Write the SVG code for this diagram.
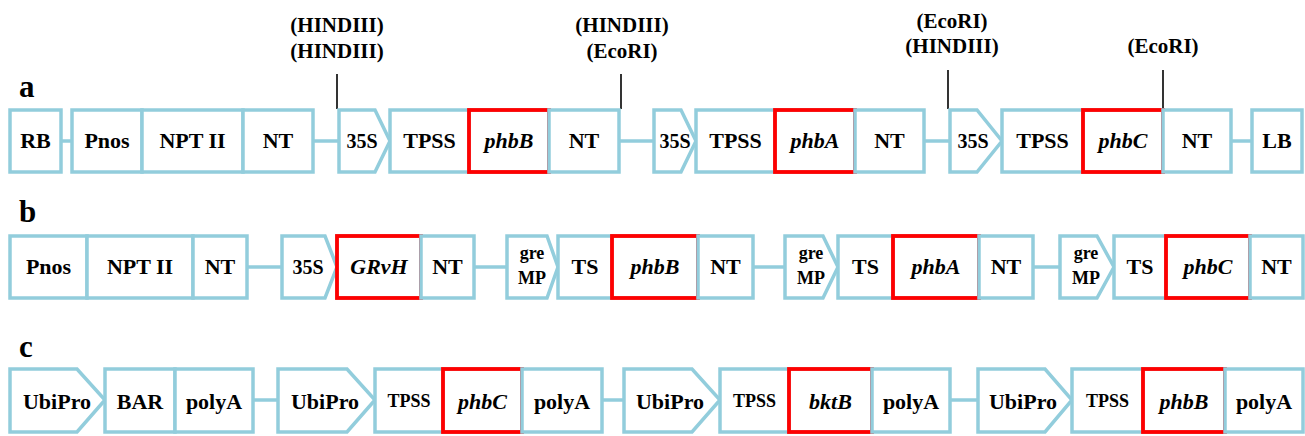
<svg xmlns="http://www.w3.org/2000/svg" width="1305" height="436" viewBox="0 0 1305 436">
  <style>
    .box { fill: #ffffff; stroke: #92cddc; stroke-width: 3.5; stroke-linejoin: miter; }
    .gene { fill: none; stroke: #ff0000; stroke-width: 3.8; }
    .link { stroke: #92cddc; stroke-width: 3.5; fill: none; }
    .cut { stroke: #000000; stroke-width: 1.6; }
    text { font-family: 'Liberation Serif', 'Times New Roman', serif; font-weight: bold; fill: #000000; text-anchor: middle; }
    .lbl { font-size: 22px; }
    .sm { font-size: 18px; }
    .pr { font-size: 20px; }
    .it { font-style: italic; }
    .site { font-size: 21px; }
    .panel { font-size: 31px; text-anchor: start; }
  </style>

  <!-- panel letters -->
  <text class="panel" x="19" y="97">a</text>
  <text class="panel" x="19" y="222">b</text>
  <text class="panel" x="19" y="357">c</text>

  <!-- restriction sites above construct a -->
  <g id="sites">
    <text class="site" x="337" y="32">(HINDIII)</text>
    <text class="site" x="337" y="58">(HINDIII)</text>
    <line class="cut" x1="337" y1="74" x2="337" y2="109"/>
    <text class="site" x="622" y="32">(HINDIII)</text>
    <text class="site" x="622" y="58">(EcoRI)</text>
    <line class="cut" x1="621" y1="74" x2="621" y2="109"/>
    <text class="site" x="952" y="28">(EcoRI)</text>
    <text class="site" x="952" y="53">(HINDIII)</text>
    <line class="cut" x1="948" y1="70" x2="948" y2="109"/>
    <text class="site" x="1163" y="53">(EcoRI)</text>
    <line class="cut" x1="1163" y1="70" x2="1163" y2="109"/>
  </g>

  <!-- connectors -->
  <g id="connectors">
    <!-- a: y=141 -->
    <line class="link" x1="61" y1="141" x2="72" y2="141"/>
    <line class="link" x1="313" y1="141" x2="339" y2="141"/>
    <line class="link" x1="619" y1="141" x2="654" y2="141"/>
    <line class="link" x1="924" y1="141" x2="950" y2="141"/>
    <line class="link" x1="1231" y1="141" x2="1252" y2="141"/>
    <!-- b: y=267 -->
    <line class="link" x1="247" y1="267" x2="282" y2="267"/>
    <line class="link" x1="474" y1="267" x2="507" y2="267"/>
    <line class="link" x1="753" y1="267" x2="785" y2="267"/>
    <line class="link" x1="1033" y1="267" x2="1060" y2="267"/>
    <!-- c: y=400 -->
    <line class="link" x1="253" y1="400" x2="278" y2="400"/>
    <line class="link" x1="602" y1="400" x2="624" y2="400"/>
    <line class="link" x1="950" y1="400" x2="978" y2="400"/>
  </g>

  <!-- ===== construct a (y 110..172) ===== -->
  <g id="a-RB"><rect class="box" x="10" y="110" width="51" height="62"/><text class="lbl" x="35.5" y="148">RB</text></g>
  <g id="a-Pnos"><rect class="box" x="72" y="110" width="70" height="62"/><text class="lbl" x="107" y="148">Pnos</text></g>
  <g id="a-NPTII"><rect class="box" x="142" y="110" width="101" height="62"/><text class="lbl" x="192.5" y="148">NPT II</text></g>
  <g id="a-NT1"><rect class="box" x="243" y="110" width="70" height="62"/><text class="lbl" x="278" y="148">NT</text></g>
  <g id="a-35S1"><polygon class="box" points="339,110 375,110 390,141 375,172 339,172"/><text class="pr" x="362" y="148">35S</text></g>
  <g id="a-TPSS1"><rect class="box" x="390" y="110" width="79" height="62"/><text class="lbl" x="429.5" y="148">TPSS</text></g>
  <g id="a-phbB"><rect class="box" x="469" y="110" width="80" height="62"/><rect class="gene" x="469" y="110" width="80" height="62"/><text class="lbl it" x="509" y="148">phbB</text></g>
  <g id="a-NT2"><rect class="box" x="549" y="110" width="70" height="62"/><text class="lbl" x="584" y="148">NT</text></g>
  <g id="a-35S2"><polygon class="box" points="654,110 681,110 696,141 681,172 654,172"/><text class="pr" x="675" y="148">35S</text></g>
  <g id="a-TPSS2"><rect class="box" x="696" y="110" width="79" height="62"/><text class="lbl" x="735.5" y="148">TPSS</text></g>
  <g id="a-phbA"><rect class="box" x="775" y="110" width="80" height="62"/><rect class="gene" x="775" y="110" width="80" height="62"/><text class="lbl it" x="815" y="148">phbA</text></g>
  <g id="a-NT3"><rect class="box" x="855" y="110" width="69" height="62"/><text class="lbl" x="889.5" y="148">NT</text></g>
  <g id="a-35S3"><polygon class="box" points="950,110 977,110 1002,141 977,172 950,172"/><text class="pr" x="973" y="148">35S</text></g>
  <g id="a-TPSS3"><rect class="box" x="1002" y="110" width="81" height="62"/><text class="lbl" x="1042.5" y="148">TPSS</text></g>
  <g id="a-phbC"><rect class="box" x="1083" y="110" width="80" height="62"/><rect class="gene" x="1083" y="110" width="80" height="62"/><text class="lbl it" x="1123" y="148">phbC</text></g>
  <g id="a-NT4"><rect class="box" x="1163" y="110" width="68" height="62"/><text class="lbl" x="1197" y="148">NT</text></g>
  <g id="a-LB"><rect class="box" x="1252" y="110" width="50" height="62"/><text class="lbl" x="1277" y="148">LB</text></g>

  <!-- ===== construct b (y 236..298) ===== -->
  <g id="b-Pnos"><rect class="box" x="10" y="236" width="77" height="62"/><text class="lbl" x="48.5" y="274">Pnos</text></g>
  <g id="b-NPTII"><rect class="box" x="87" y="236" width="106" height="62"/><text class="lbl" x="140" y="274">NPT II</text></g>
  <g id="b-NT1"><rect class="box" x="193" y="236" width="54" height="62"/><text class="lbl" x="220" y="274">NT</text></g>
  <g id="b-35S"><polygon class="box" points="282,236 325,236 337,267 325,298 282,298"/><text class="pr" x="308" y="274">35S</text></g>
  <g id="b-GRvH"><rect class="box" x="337" y="236" width="84" height="62"/><rect class="gene" x="337" y="236" width="84" height="62"/><text class="lbl it" x="379" y="274">GRvH</text></g>
  <g id="b-NT2"><rect class="box" x="421" y="236" width="53" height="62"/><text class="lbl" x="447.5" y="274">NT</text></g>
  <g id="b-greMP1"><polygon class="box" points="507,236 547,236 558,267 547,298 507,298"/><text class="sm" x="532" y="259">gre</text><text class="sm" x="532" y="284">MP</text></g>
  <g id="b-TS1"><rect class="box" x="558" y="236" width="54" height="62"/><text class="lbl" x="585" y="274">TS</text></g>
  <g id="b-phbB"><rect class="box" x="612" y="236" width="86" height="62"/><rect class="gene" x="612" y="236" width="86" height="62"/><text class="lbl it" x="655" y="274">phbB</text></g>
  <g id="b-NT3"><rect class="box" x="698" y="236" width="55" height="62"/><text class="lbl" x="725.5" y="274">NT</text></g>
  <g id="b-greMP2"><polygon class="box" points="785,236 823,236 838,267 823,298 785,298"/><text class="sm" x="811" y="259">gre</text><text class="sm" x="811" y="284">MP</text></g>
  <g id="b-TS2"><rect class="box" x="838" y="236" width="55" height="62"/><text class="lbl" x="865.5" y="274">TS</text></g>
  <g id="b-phbA"><rect class="box" x="893" y="236" width="86" height="62"/><rect class="gene" x="893" y="236" width="86" height="62"/><text class="lbl it" x="936" y="274">phbA</text></g>
  <g id="b-NT4"><rect class="box" x="979" y="236" width="54" height="62"/><text class="lbl" x="1006" y="274">NT</text></g>
  <g id="b-greMP3"><polygon class="box" points="1060,236 1097,236 1114,267 1097,298 1060,298"/><text class="sm" x="1086" y="259">gre</text><text class="sm" x="1086" y="284">MP</text></g>
  <g id="b-TS3"><rect class="box" x="1114" y="236" width="52" height="62"/><text class="lbl" x="1140" y="274">TS</text></g>
  <g id="b-phbC"><rect class="box" x="1166" y="236" width="84" height="62"/><rect class="gene" x="1166" y="236" width="84" height="62"/><text class="lbl it" x="1208" y="274">phbC</text></g>
  <g id="b-NT5"><rect class="box" x="1250" y="236" width="53" height="62"/><text class="lbl" x="1276.5" y="274">NT</text></g>

  <!-- ===== construct c (y 369..432) ===== -->
  <g id="c-UbiPro1"><polygon class="box" points="10,369 77,369 105,400 77,432 10,432"/><text class="lbl" x="57" y="409">UbiPro</text></g>
  <g id="c-BAR"><rect class="box" x="105" y="369" width="70" height="63"/><text class="lbl" x="140" y="409">BAR</text></g>
  <g id="c-polyA1"><rect class="box" x="175" y="369" width="78" height="63"/><text class="lbl" x="214" y="409">polyA</text></g>
  <g id="c-UbiPro2"><polygon class="box" points="278,369 347,369 375,400 347,432 278,432"/><text class="lbl" x="325" y="409">UbiPro</text></g>
  <g id="c-TPSS1"><rect class="box" x="375" y="369" width="68" height="63"/><text class="sm" x="409" y="407">TPSS</text></g>
  <g id="c-phbC"><rect class="box" x="443" y="369" width="79" height="63"/><rect class="gene" x="443" y="369" width="79" height="63"/><text class="lbl it" x="482.5" y="409">phbC</text></g>
  <g id="c-polyA2"><rect class="box" x="522" y="369" width="80" height="63"/><text class="lbl" x="562" y="409">polyA</text></g>
  <g id="c-UbiPro3"><polygon class="box" points="624,369 692,369 720,400 692,432 624,432"/><text class="lbl" x="670" y="409">UbiPro</text></g>
  <g id="c-TPSS2"><rect class="box" x="720" y="369" width="69" height="63"/><text class="sm" x="754.5" y="407">TPSS</text></g>
  <g id="c-bktB"><rect class="box" x="789" y="369" width="83" height="63"/><rect class="gene" x="789" y="369" width="83" height="63"/><text class="lbl it" x="830.5" y="409">bktB</text></g>
  <g id="c-polyA3"><rect class="box" x="872" y="369" width="78" height="63"/><text class="lbl" x="911" y="409">polyA</text></g>
  <g id="c-UbiPro4"><polygon class="box" points="978,369 1045,369 1072,400 1045,432 978,432"/><text class="lbl" x="1023" y="409">UbiPro</text></g>
  <g id="c-TPSS3"><rect class="box" x="1072" y="369" width="71" height="63"/><text class="sm" x="1107.5" y="407">TPSS</text></g>
  <g id="c-phbB"><rect class="box" x="1143" y="369" width="82" height="63"/><rect class="gene" x="1143" y="369" width="82" height="63"/><text class="lbl it" x="1184" y="409">phbB</text></g>
  <g id="c-polyA4"><rect class="box" x="1225" y="369" width="78" height="63"/><text class="lbl" x="1264" y="409">polyA</text></g>
</svg>
